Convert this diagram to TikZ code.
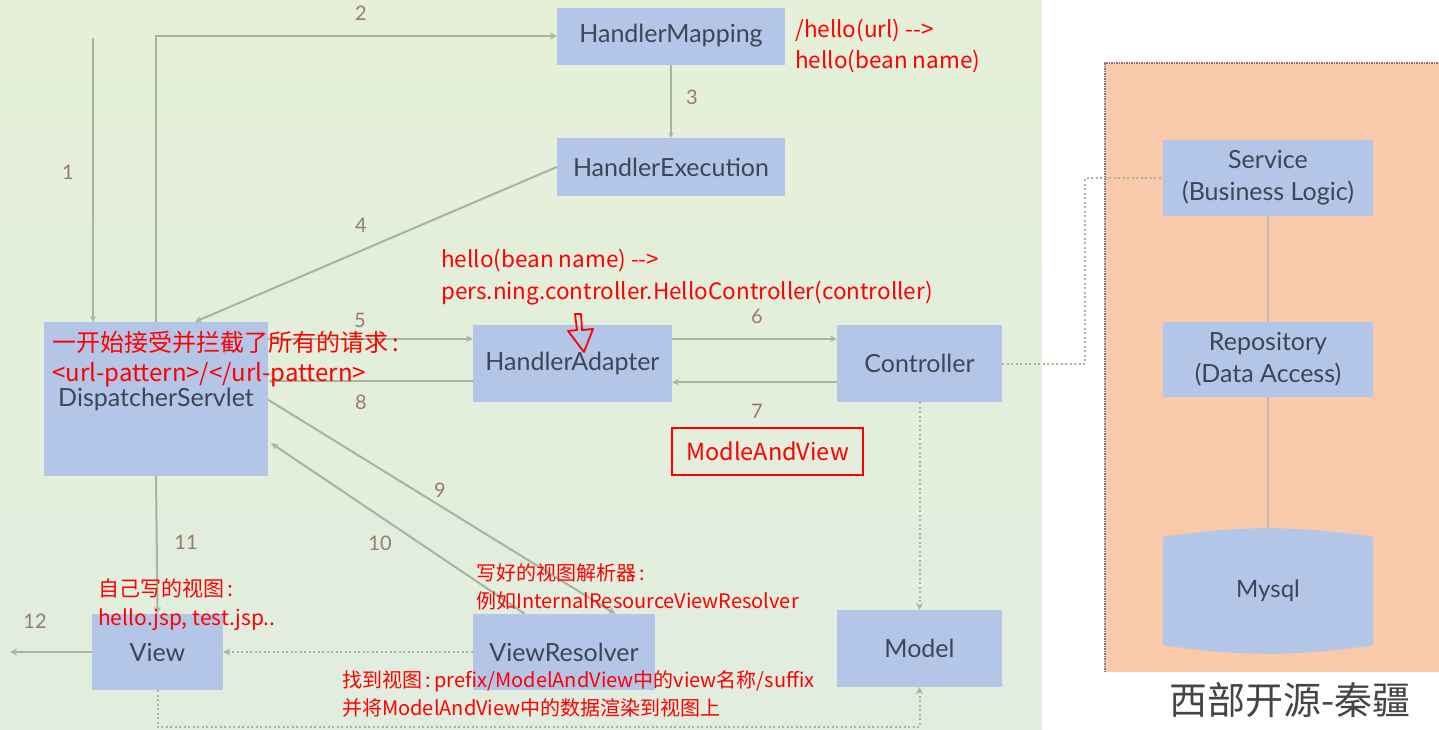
\documentclass[tikz,border=0pt]{standalone}
\usepackage{fontspec}
\newfontfamily\boxfont{Lato}
\newfontfamily\cjk{Noto Sans CJK SC}
\definecolor{bgtop}{HTML}{E6F0D8}
\definecolor{bgbottom}{HTML}{E1EDDF}
\definecolor{boxblue}{HTML}{B4C6E7}
\definecolor{panelorange}{HTML}{F8CAAB}
\definecolor{linegray}{HTML}{A7B59F}
\definecolor{numbrown}{HTML}{9A7A70}
\definecolor{labelgray}{HTML}{3D4556}
\definecolor{dotbrown}{HTML}{85706A}
\definecolor{notered}{HTML}{FF0000}
\definecolor{brandgray}{HTML}{454545}

\begin{document}
\begin{tikzpicture}[x=1pt, y=-1pt, >=stealth,
    box/.style={fill=boxblue, inner sep=0pt, text=labelgray, font=\boxfont\fontsize{25}{32}\selectfont, align=center},
    num/.style={text=numbrown, inner sep=0pt, font=\boxfont\fontsize{20}{24}\selectfont},
    note/.style={text=notered, inner sep=0pt, anchor=west, font=\cjk\fontsize{22.5}{26}\selectfont},
    bignote/.style={note, font=\cjk\fontsize{24}{28}\selectfont},
    smallnote/.style={note, font=\cjk\fontsize{20}{24}\selectfont},
    flow/.style={->, draw=linegray, line width=2pt},
    dotflow/.style={draw=linegray, line width=2pt, dash pattern=on 2pt off 2.5pt}]
    \useasboundingbox (0, 0) rectangle (1439, 729);

    % Hintergrund
    \shade[top color=bgtop, bottom color=bgbottom] (0, 0) rectangle (1042, 729);
    \fill[white] (1042, 0) rectangle (1439, 729);
    \fill[panelorange] (1105, 63) rectangle (1439, 672);
    \draw[dotbrown, line width=1.5pt, dash pattern=on 1.5pt off 1pt] (1105, 672) -- (1105, 63) -- (1439, 63);

    % Knoten
    \node[box, minimum width=228, minimum height=57] (hm) at (671, 36) {HandlerMapping};
    \node[box, minimum width=228, minimum height=58] (he) at (671, 167) {HandlerExecution};
    \node[box, minimum width=224, minimum height=154] (ds) at (156, 399) {DispatcherServlet};
    \node[box, minimum width=199, minimum height=77] (ha) at (572.5, 363.5) {HandlerAdapter};
    \node[box, minimum width=165, minimum height=77] (ct) at (919.5, 363.5) {Controller};
    \node[box, minimum width=131, minimum height=76] (vw) at (157.5, 652) {View};
    \node[box, minimum width=182, minimum height=76] (vr) at (564, 652) {ViewResolver};
    \node[box, minimum width=165, minimum height=77] (md) at (919.5, 648.5) {Model};
    \node[box, minimum width=210, minimum height=76] (sv) at (1268, 178) {Service\\(Business Logic)};
    \node[box, minimum width=210, minimum height=75] (rp) at (1268, 359.5) {Repository\\(Data Access)};

    % Mysql
    \node[inner sep=0pt, minimum width=210, minimum height=108] (db) at (1268, 591) {};
    \fill[boxblue] (db.north west) to[bend left=8] (db.north east) -- (db.south east) to[bend left=8] (db.south west) -- cycle;
    \node[text=labelgray, font=\boxfont\fontsize{24}{28}\selectfont] (dbtext) at (db) {Mysql};

    % Pfeile
    \coordinate (in1) at (93, 38);
    \coordinate (out12) at (10, 652);
    \draw[flow, line width=1.5pt] (in1) -- (in1 |- ds.north);
    \draw[flow] (ds.north) |- (hm.west);
    \draw[flow, line width=1.2pt] (hm.south) -- (he.north);
    \draw[flow] (he.west) -- ([shift={(39,0)}]ds.north);
    \draw[flow] ([shift={(0,17)}]ds.north east) coordinate (a5) -- (a5 -| ha.west);
    \draw[flow] ([shift={(0,14)}]ha.north east) coordinate (a6) -- (a6 -| ct.west);
    \draw[flow] ([shift={(0,-20)}]ct.south west) coordinate (a7) -- (a7 -| ha.east);
    \draw[flow] ([shift={(0,-21)}]ha.south west) coordinate (a8) -- (a8 -| ds.east);
    \draw[flow] ([shift={(0,78)}]ds.north east) -- ([shift={(-40,0)}]vr.north east);
    \draw[flow] ([shift={(52,0)}]vr.north west) -- ([shift={(3,-33)}]ds.south east);
    \draw[flow] (ds.south) -- (vw.north);
    \draw[flow] (vw.west) -- (out12);

    % gepunktete Verbindungen
    \coordinate (bot) at (540, 727);
    \draw[dotflow, ->] (vr.west) -- (vw.east);
    \draw[dotflow, ->] (ct.south) -- (md.north);
    \draw[dotflow, ->] (vw.south) |- (bot) -| (md.south);
    \draw[dotflow] (ct.east) -- ++(83, 0) |- (sv.west);
    \draw[draw=gray!55, line width=2pt] (sv.south) -- (rp.north);
    \draw[draw=gray!55, line width=2pt] (rp.south) -- ([shift={(0,-8)}]db.north);

    % Nummern
    \node[num] (n1) at (68, 172) {1};
    \node[num] (n2) at (361, 13) {2};
    \node[num] (n3) at (692, 97) {3};
    \node[num] (n4) at (361, 225) {4};
    \node[num] (n5) at (360, 320) {5};
    \node[num] (n6) at (757, 316) {6};
    \node[num] (n7) at (757, 411) {7};
    \node[num] (n8) at (361, 402) {8};
    \node[num] (n9) at (440, 490) {9};
    \node[num] (n10) at (380, 543) {10};
    \node[num] (n11) at (186, 542) {11};
    \node[num] (n12) at (35, 621) {12};

    % Anmerkungen
    \node[note] (url1) at (795, 30) {/hello(url) -->};
    \node[note] (url2) at (795, 61) {hello(bean name)};
    \node[note] (bean1) at (441, 260) {hello(bean name) -->};
    \node[note] (bean2) at (441, 293) {pers.ning.controller.HelloController(controller)};
    \node[bignote] (all1) at (52, 342) {一开始接受并拦截了所有的请求\,:};
    \node[bignote] (all2) at (52, 375) {<url-pattern>/</url-pattern>};
    \node[note, anchor=center, draw=notered, line width=2pt, minimum width=191, minimum height=47, font=\cjk\fontsize{23.5}{27}\selectfont] (mav) at (767.5, 451.5) {ModleAndView};
    \node[note, font=\cjk\fontsize{21}{25}\selectfont] (own1) at (98, 588) {自己写的视图\,:};
    \node[note, font=\cjk\fontsize{21}{25}\selectfont] (own2) at (98, 620) {hello.jsp, test.jsp..};
    \node[smallnote] (res1) at (476, 573) {写好的视图解析器\,:};
    \node[smallnote] (res2) at (476, 601) {例如InternalResourceViewResolver};
    \node[smallnote] (find1) at (342, 681) {找到视图\,:\,prefix/ModelAndView中的view名称/suffix};
    \node[smallnote] (find2) at (342, 708) {并将ModelAndView中的数据渲染到视图上};

    % roter Hohlpfeil
    \draw[notered, line width=1.8pt, line join=round] (575, 314) -- (581, 314) -- (582, 330) -- (593, 329) -- (584, 352) -- (568, 331) -- (577, 330) -- cycle;

    \node[text=brandgray, font=\cjk\fontsize{38}{42}\selectfont] (brand) at (1290, 700) {西部开源-秦疆};
\end{tikzpicture}
\end{document}
